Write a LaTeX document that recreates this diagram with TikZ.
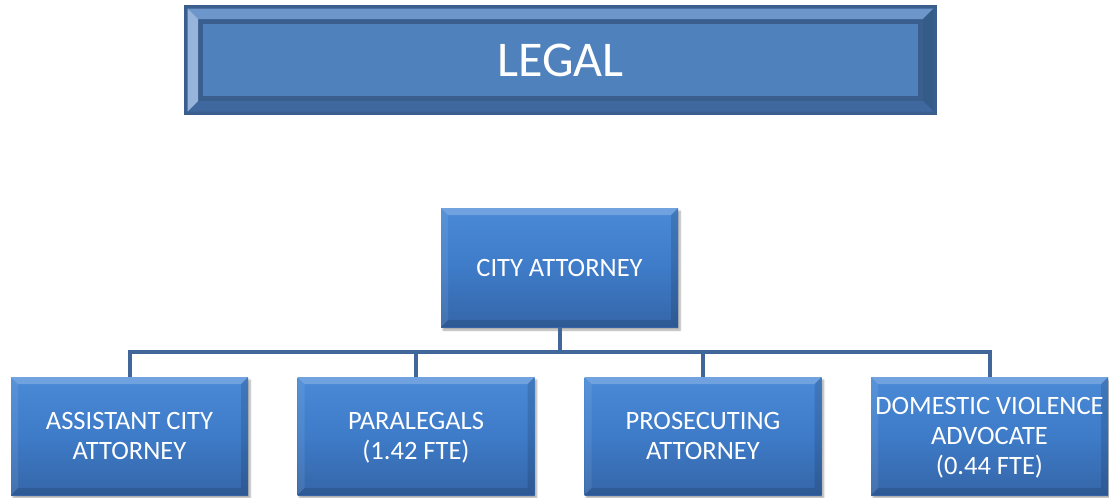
\documentclass[tikz,border=0pt]{standalone}
\usepackage{fontspec}
\setmainfont{Carlito}
\usetikzlibrary{shadows.blur}

% palette
\definecolor{titleEdge}{HTML}{3A5F8F}
\definecolor{titleTop}{HTML}{6D96CA}
\definecolor{titleLeft}{HTML}{97B5DB}
\definecolor{titleBottom}{HTML}{3F699E}
\definecolor{titleRight}{HTML}{355B89}
\definecolor{titleFace}{HTML}{4F81BD}
\definecolor{boxTop}{HTML}{4A8AD7}
\definecolor{boxMid}{HTML}{3E7BC8}
\definecolor{boxBot}{HTML}{3566A8}
\definecolor{linkCol}{HTML}{41679A}

\tikzset{
  % bevelled banner for the department name
  titlebox/.style={
    minimum width=753pt, minimum height=110pt, inner sep=0pt,
    fill=titleEdge, text=white, font=\fontsize{50}{60}\selectfont,
    path picture={
      \coordinate (a1) at ([shift={(3.5pt,-3.5pt)}]path picture bounding box.north west);
      \coordinate (a2) at ([shift={(-3.5pt,-3.5pt)}]path picture bounding box.north east);
      \coordinate (a3) at ([shift={(-3.5pt,3.5pt)}]path picture bounding box.south east);
      \coordinate (a4) at ([shift={(3.5pt,3.5pt)}]path picture bounding box.south west);
      \coordinate (b1) at ([shift={(14pt,-14pt)}]path picture bounding box.north west);
      \coordinate (b2) at ([shift={(-14pt,-14pt)}]path picture bounding box.north east);
      \coordinate (b3) at ([shift={(-14pt,14pt)}]path picture bounding box.south east);
      \coordinate (b4) at ([shift={(14pt,14pt)}]path picture bounding box.south west);
      \fill[titleTop] (a1) -- (a2) -- (b2) -- (b1) -- cycle;
      \fill[titleRight] (a2) -- (a3) -- (b3) -- (b2) -- cycle;
      \fill[titleBottom] (a3) -- (a4) -- (b4) -- (b3) -- cycle;
      \fill[titleLeft] (a4) -- (a1) -- (b1) -- (b4) -- cycle;
      \fill[titleFace] ([shift={(19pt,-19pt)}]path picture bounding box.north west)
        rectangle ([shift={(-19pt,19pt)}]path picture bounding box.south east);
    }
  },
  % shaded org-chart box with soft bevel and drop shadow
  orgbox/.style={
    minimum width=237pt, minimum height=118pt, inner sep=2pt,
    align=center, text=white, font=\fontsize{26.5}{30}\selectfont,
    top color=boxTop, bottom color=boxBot, middle color=boxMid,
    blur shadow={shadow xshift=2pt, shadow yshift=-3pt, shadow blur steps=6, shadow opacity=35},
    path picture={
      \fill[white, opacity=0.22]
        (path picture bounding box.north west) -- (path picture bounding box.north east)
        -- ([shift={(-7pt,-7pt)}]path picture bounding box.north east)
        -- ([shift={(7pt,-7pt)}]path picture bounding box.north west) -- cycle;
      \fill[white, opacity=0.08]
        (path picture bounding box.north west) -- ([shift={(7pt,-7pt)}]path picture bounding box.north west)
        -- ([shift={(7pt,7pt)}]path picture bounding box.south west)
        -- (path picture bounding box.south west) -- cycle;
      \fill[black, opacity=0.12]
        (path picture bounding box.north east) -- ([shift={(-7pt,-7pt)}]path picture bounding box.north east)
        -- ([shift={(-7pt,7pt)}]path picture bounding box.south east)
        -- (path picture bounding box.south east) -- cycle;
      \fill[black, opacity=0.12]
        (path picture bounding box.south west) -- (path picture bounding box.south east)
        -- ([shift={(-7pt,7pt)}]path picture bounding box.south east)
        -- ([shift={(7pt,7pt)}]path picture bounding box.south west) -- cycle;
    }
  },
  link/.style={draw=linkCol, line width=4pt}
}

\begin{document}
\begin{tikzpicture}[x=1pt, y=-1pt]
  \useasboundingbox (0,0) rectangle (1109,498);

  \node[titlebox] (title) at (560.5,60) {LEGAL};

  \node[orgbox, minimum height=119pt] (city) at (559.5,267.5) {CITY ATTORNEY};

  % bracketed last lines are smashed so the text block centres on the capitals
  \node[orgbox] (asst) at (129.5,436) {ASSISTANT CITY\\ATTORNEY};
  \node[orgbox] (para) at (416,436) {PARALEGALS\\\smash{(1.42 FTE)}};
  \node[orgbox] (pros) at (703,436) {PROSECUTING\\ATTORNEY};
  \node[orgbox] (dva) at (989.5,436) {DOMESTIC VIOLENCE\\ADVOCATE\\\smash{(0.44 FTE)}};

  \coordinate (bus) at (559.5,351.5);
  \draw[link] (city.south) -- (bus);
  \draw[link] (bus) -| (asst.north);
  \draw[link] (bus) -| (para.north);
  \draw[link] (bus) -| (pros.north);
  \draw[link] (bus) -| (dva.north);
\end{tikzpicture}
\end{document}
